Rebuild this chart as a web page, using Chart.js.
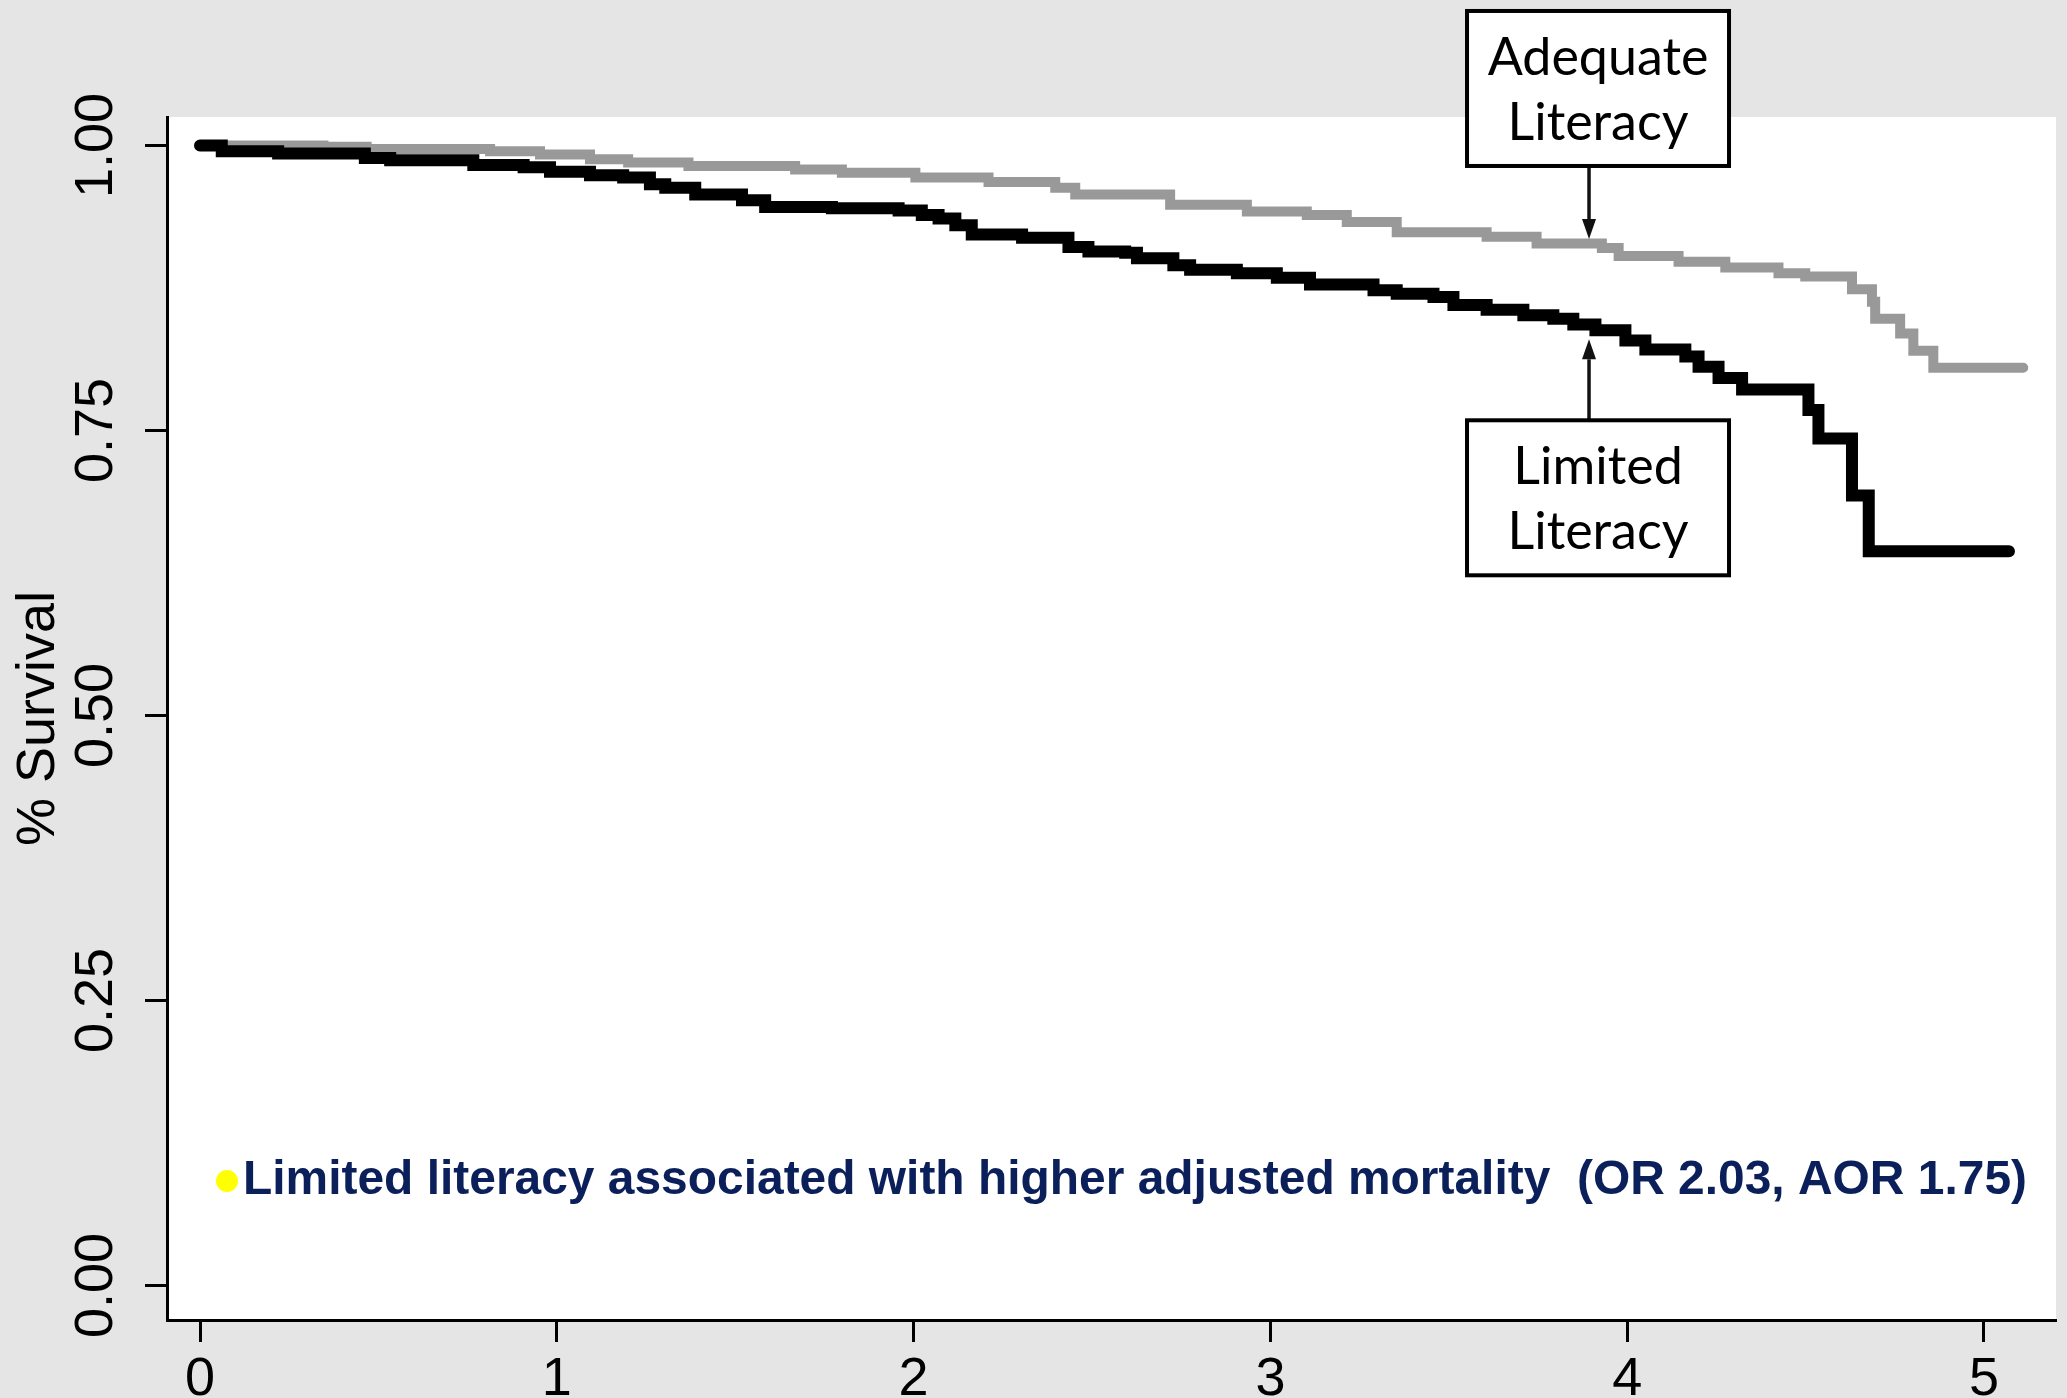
<!DOCTYPE html>
<html>
<head>
<meta charset="utf-8">
<script src="https://cdn.jsdelivr.net/npm/chart.js@4.4.1/dist/chart.umd.min.js"></script>
<style>
  html, body { margin: 0; padding: 0; background: #e5e5e5; }
  canvas { display: block; }
</style>
</head>
<body>
<canvas id="kmChart" width="2067" height="1398"></canvas>
<script>
// axis ticks
const xTicks = [0, 1, 2, 3, 4, 5];
const yTicks = [0, 0.25, 0.5, 0.75, 1];

// Limited literacy (black) - step times (years) and survival after each step
const limitedTime = [0, 0.061, 0.219, 0.462, 0.533, 0.766, 0.907, 0.981, 1.093, 1.186, 1.261, 1.304, 1.388, 1.519, 1.584,
  1.771, 1.958, 2.023, 2.070, 2.117, 2.163, 2.304, 2.434, 2.490, 2.593, 2.626, 2.728, 2.775, 2.906, 3.018, 3.111, 3.289,
  3.354, 3.457, 3.513, 3.606, 3.709, 3.793, 3.849, 3.911, 3.995, 4.051, 4.163, 4.200, 4.256, 4.322, 4.508, 4.536, 4.630,
  4.677, 5.07];
const limitedSurv = [1.000, 0.995, 0.993, 0.989, 0.987, 0.983, 0.981, 0.977, 0.974, 0.972, 0.966, 0.963, 0.957, 0.952, 0.946,
  0.945, 0.943, 0.939, 0.936, 0.930, 0.922, 0.919, 0.911, 0.907, 0.906, 0.901, 0.895, 0.891, 0.888, 0.884, 0.878, 0.873,
  0.870, 0.867, 0.860, 0.856, 0.851, 0.848, 0.843, 0.838, 0.829, 0.821, 0.815, 0.806, 0.796, 0.786, 0.768, 0.743, 0.693,
  0.644, 0.644];

// Adequate literacy (grey)
const adequateTime = [0, 0.346, 0.467, 0.813, 0.953, 1.093, 1.200, 1.369, 1.668, 1.799, 2.005, 2.210, 2.397, 2.453, 2.719,
  2.934, 3.102, 3.214, 3.354, 3.606, 3.746, 3.929, 3.976, 4.144, 4.275, 4.424, 4.499, 4.630, 4.686, 4.695, 4.765, 4.802,
  4.858, 5.11];
const adequateSurv = [1.000, 0.999, 0.997, 0.995, 0.992, 0.988, 0.985, 0.982, 0.979, 0.976, 0.972, 0.968, 0.963, 0.957, 0.948,
  0.942, 0.939, 0.933, 0.924, 0.920, 0.914, 0.910, 0.903, 0.898, 0.893, 0.888, 0.885, 0.874, 0.863, 0.848, 0.835, 0.820,
  0.805, 0.805];

// callout anchors (where the arrows point)
const callouts = [
  { lines: ['Adequate', 'Literacy'], x: 3.893, y: 0.918, above: true },
  { lines: ['Limited', 'Literacy'], x: 3.893, y: 0.830, above: false }
];
const noteText = 'Limited literacy associated with higher adjusted mortality  (OR 2.03, AOR 1.75)';

const toPoints = (xs, ys) => xs.map((x, i) => ({ x: x, y: ys[i] }));

// grey page + white plot area
const backdrop = {
  id: 'backdrop',
  beforeDraw(chart) {
    const { ctx, chartArea: a } = chart;
    ctx.save();
    ctx.fillStyle = '#e5e5e5';
    ctx.fillRect(0, 0, chart.width, chart.height);
    ctx.fillStyle = '#ffffff';
    ctx.fillRect(a.left, a.top, a.right - a.left, a.bottom - a.top);
    ctx.restore();
  }
};

// boxes with arrows + the note line
const notes = {
  id: 'notes',
  afterDraw(chart) {
    const { ctx, chartArea: a } = chart;
    const xs = chart.scales.x, ys = chart.scales.y;
    ctx.save();
    callouts.forEach(c => {
      const tx = xs.getPixelForValue(c.x);
      const ty = ys.getPixelForValue(c.y);
      const bw = 262, bh = 155, cx = tx + 9;
      const top = c.above ? ty - 73 - bh : ty + 81;
      const edge = c.above ? top + bh : top;
      const head = 20, dir = c.above ? 1 : -1;
      // shaft
      ctx.strokeStyle = '#111';
      ctx.lineWidth = 3.5;
      ctx.beginPath();
      ctx.moveTo(tx, edge);
      ctx.lineTo(tx, ty - dir * head);
      ctx.stroke();
      // head
      ctx.fillStyle = '#111';
      ctx.beginPath();
      ctx.moveTo(tx, ty);
      ctx.lineTo(tx - 7, ty - dir * head);
      ctx.lineTo(tx + 7, ty - dir * head);
      ctx.closePath();
      ctx.fill();
      // box
      ctx.fillStyle = '#fff';
      ctx.fillRect(cx - bw / 2, top, bw, bh);
      ctx.strokeStyle = '#000';
      ctx.lineWidth = 4;
      ctx.strokeRect(cx - bw / 2, top, bw, bh);
      ctx.fillStyle = '#000';
      ctx.font = '52px Lato';
      ctx.textAlign = 'center';
      ctx.textBaseline = 'alphabetic';
      ctx.fillText(c.lines[0], cx, top + 64);
      ctx.fillText(c.lines[1], cx, top + 129);
    });

    // bullet + bold note
    const nx = a.left + 76, ny = a.bottom - 126;
    ctx.fillStyle = '#ffff00';
    ctx.beginPath();
    ctx.ellipse(a.left + 60, ny - 13, 11, 11, 0, 0, Math.PI * 2);
    ctx.fill();
    ctx.font = 'bold 49px "Liberation Sans", Arial, sans-serif';
    ctx.textAlign = 'left';
    const w = ctx.measureText(noteText).width;
    const target = 1784;
    ctx.translate(nx, ny);
    ctx.scale(target / w, 1);
    ctx.fillStyle = '#0b1f5a';
    ctx.fillText(noteText, 0, 0);
    ctx.restore();
  }
};

const tickFont = { family: '"Liberation Sans", Arial, sans-serif', size: 54 };

new Chart(document.getElementById('kmChart'), {
  type: 'line',
  data: {
    datasets: [
      {
        label: 'Limited Literacy',
        data: toPoints(limitedTime, limitedSurv),
        borderColor: '#000000',
        borderWidth: 12,
        stepped: 'before',
        pointRadius: 0,
        borderCapStyle: 'round',
        fill: false
      },
      {
        label: 'Adequate Literacy',
        data: toPoints(adequateTime, adequateSurv),
        borderColor: '#999999',
        borderWidth: 10,
        stepped: 'before',
        pointRadius: 0,
        borderCapStyle: 'round',
        fill: false
      }
    ]
  },
  options: {
    responsive: false,
    animation: false,
    devicePixelRatio: 1,
    layout: { padding: { top: 117, right: 11, left: 0, bottom: 0 } },
    plugins: {
      legend: { display: false },
      tooltip: { enabled: false }
    },
    scales: {
      x: {
        type: 'linear',
        min: -0.0925,
        max: 5.2018,
        afterBuildTicks: s => { s.ticks = xTicks.map(v => ({ value: v })); },
        afterFit: s => { s.height = 78; },
        grid: { drawOnChartArea: false, tickLength: 22, tickWidth: 3, tickColor: '#000' },
        border: { color: '#000', width: 3 },
        ticks: {
          font: tickFont, color: '#000', padding: 6, autoSkip: false,
          maxRotation: 0, callback: v => String(v)
        }
      },
      y: {
        type: 'linear',
        min: -0.0303,
        max: 1.025,
        afterBuildTicks: s => { s.ticks = yTicks.map(v => ({ value: v })); },
        afterFit: s => { s.width = 167; },
        grid: { drawOnChartArea: false, tickLength: 22, tickWidth: 3, tickColor: '#000' },
        border: { color: '#000', width: 3 },
        title: {
          display: true, text: '% Survival', color: '#000',
          font: tickFont, padding: { top: 7, bottom: 0 }
        },
        ticks: {
          font: tickFont, color: '#000', padding: -5, autoSkip: false,
          minRotation: 90, maxRotation: 90, crossAlign: 'center',
          callback: v => v.toFixed(2)
        }
      }
    }
  },
  plugins: [backdrop, notes]
});
</script>
</body>
</html>
